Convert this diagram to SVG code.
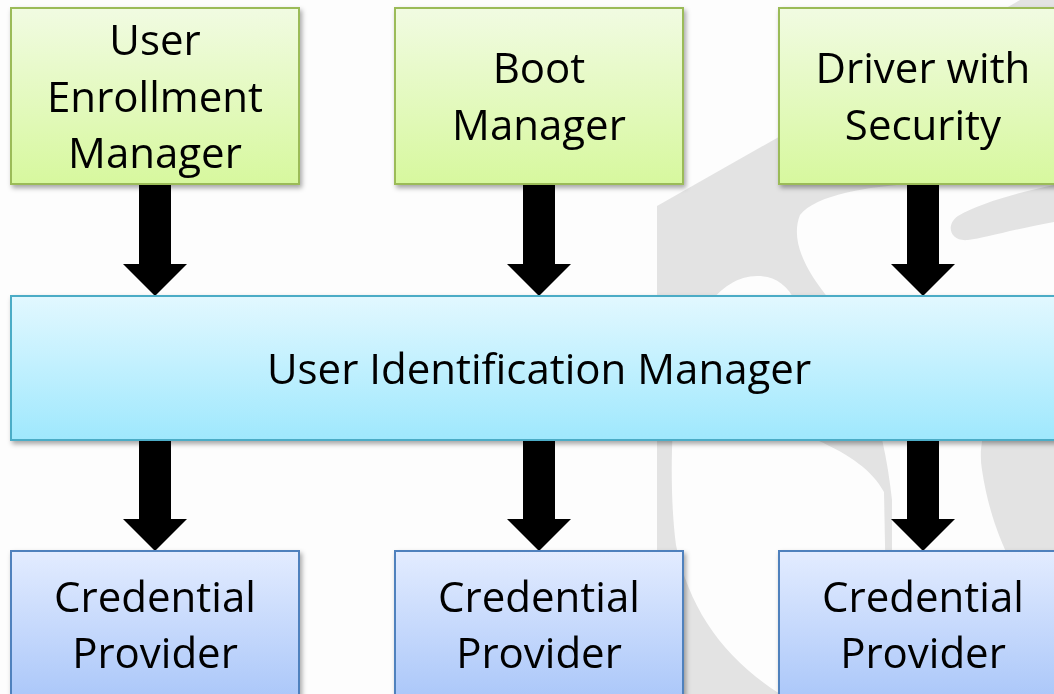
<svg xmlns="http://www.w3.org/2000/svg" width="1054" height="694" viewBox="0 0 1054 694">
  <style>
    .label { font-family: "Open Sans", "Liberation Sans", sans-serif; font-size: 42px; fill: #000; text-anchor: middle; }
    .green { fill: url(#gGreen); stroke: #9bbb59; stroke-width: 2; }
    .cyan { fill: url(#gCyan); stroke: #4bacc6; stroke-width: 2; }
    .blue { fill: url(#gBlue); stroke: #4f81bd; stroke-width: 2; }
    .mark { fill: #e3e3e3; }
    .paper { fill: #fdfdfd; }
    .arrow { fill: #000; }
  </style>
  <defs>
    <linearGradient id="gGreen" x1="0" y1="0" x2="0" y2="1">
      <stop offset="0" stop-color="#f1fbe2"/>
      <stop offset="1" stop-color="#d7f89e"/>
    </linearGradient>
    <linearGradient id="gCyan" x1="0" y1="0" x2="0" y2="1">
      <stop offset="0" stop-color="#e2f8ff"/>
      <stop offset="1" stop-color="#9fe8fd"/>
    </linearGradient>
    <linearGradient id="gBlue" x1="0" y1="0" x2="0" y2="1">
      <stop offset="0" stop-color="#e3ecff"/>
      <stop offset="1" stop-color="#a0c0f8"/>
    </linearGradient>
    <filter id="shadow" x="-5%" y="-5%" width="112%" height="120%">
      <feDropShadow dx="2" dy="3" stdDeviation="2.5" flood-color="#000" flood-opacity="0.35"/>
    </filter>
  </defs>

  <!-- page background with faint logo watermark -->
  <rect class="paper" x="0" y="0" width="1054" height="694"/>
  <g id="watermark">
    <path class="mark" d="M657,694 L657,206 L1020,0 L1054,0 L1054,694 Z"/>
    <path class="paper" d="M757,276 C790,276 806,305 812,380 L817,440 C850,455 872,470 884,492 L888,700 L790,700 C730,665 690,615 676,545 C670,500 671,440 675,400 C685,320 720,276 757,276 Z"/>
    <path class="paper" d="M913,184 L1054,184 L1054,330 C1000,380 975,430 982,470 C988,510 1000,540 1010,560 L1010,700 L892,700 L892,500 C884,420 855,340 830,300 C805,270 790,240 800,215 C815,195 870,186 913,184 Z"/>
    <path class="mark" d="M1054,185 L1054,222 C1010,230 985,238 968,240 C950,242 945,225 958,216 C980,203 1020,192 1054,185 Z"/>
  </g>

  <!-- block arrows -->
  <g id="connectors">
    <path class="arrow" d="M139,184 H171 V264 H187 L155,296 L123,264 H139 Z"/>
    <path class="arrow" d="M523,184 H555 V264 H571 L539,296 L507,264 H523 Z"/>
    <path class="arrow" d="M907,184 H939 V264 H955 L923,296 L891,264 H907 Z"/>
    <path class="arrow" d="M139,440 H171 V519 H187 L155,551 L123,519 H139 Z"/>
    <path class="arrow" d="M523,440 H555 V519 H571 L539,551 L507,519 H523 Z"/>
    <path class="arrow" d="M907,440 H939 V519 H955 L923,551 L891,519 H907 Z"/>
  </g>

  <g id="user-enrollment-manager" filter="url(#shadow)">
    <rect class="green" x="11" y="8" width="288" height="176"/>
    <text class="label" x="155" y="55">User</text>
    <text class="label" x="155" y="112">Enrollment</text>
    <text class="label" x="155" y="168">Manager</text>
  </g>
  <g id="boot-manager" filter="url(#shadow)">
    <rect class="green" x="395" y="8" width="288" height="176"/>
    <text class="label" x="539" y="83">Boot</text>
    <text class="label" x="539" y="140">Manager</text>
  </g>
  <g id="driver-with-security" filter="url(#shadow)">
    <rect class="green" x="779" y="8" width="288" height="176"/>
    <text class="label" x="923" y="83">Driver with</text>
    <text class="label" x="923" y="140">Security</text>
  </g>

  <g id="user-identification-manager" filter="url(#shadow)">
    <rect class="cyan" x="11" y="296" width="1056" height="144"/>
    <text class="label" x="539" y="384">User Identification Manager</text>
  </g>

  <g id="credential-provider-1" filter="url(#shadow)">
    <rect class="blue" x="11" y="551" width="288" height="176"/>
    <text class="label" x="155" y="612">Credential</text>
    <text class="label" x="155" y="668">Provider</text>
  </g>
  <g id="credential-provider-2" filter="url(#shadow)">
    <rect class="blue" x="395" y="551" width="288" height="176"/>
    <text class="label" x="539" y="612">Credential</text>
    <text class="label" x="539" y="668">Provider</text>
  </g>
  <g id="credential-provider-3" filter="url(#shadow)">
    <rect class="blue" x="779" y="551" width="288" height="176"/>
    <text class="label" x="923" y="612">Credential</text>
    <text class="label" x="923" y="668">Provider</text>
  </g>
</svg>
